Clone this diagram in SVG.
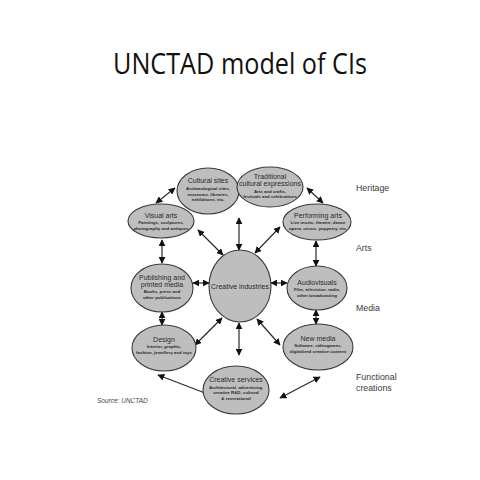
<svg xmlns="http://www.w3.org/2000/svg" width="480" height="480" viewBox="0 0 480 480">
<style>
.n{fill:#bebebe;stroke:#3a3a3a;stroke-width:1.1}
.t{font-family:"Liberation Sans",Arial,sans-serif;font-size:7px;fill:#2a2a2a;text-anchor:middle}
.d{font-family:"Liberation Sans",Arial,sans-serif;font-size:4.4px;fill:#2a2a2a;text-anchor:middle;font-weight:bold}
.l{font-family:"Liberation Sans",Arial,sans-serif;font-size:8.8px;fill:#3a3a3a}
.c line{stroke:#2a2a2a;stroke-width:1.2;marker-start:url(#a);marker-end:url(#a)}
</style>
<defs>
<marker id="a" viewBox="0 0 10 10" refX="9" refY="5" markerWidth="7" markerHeight="7" markerUnits="userSpaceOnUse" orient="auto-start-reverse">
<path d="M0,0 L10,5 L0,10 z" fill="#111"/>
</marker>
</defs>
<rect width="480" height="480" fill="#fff"/>
<text x="240" y="74" font-family="'Open Sans','Noto Sans',sans-serif" font-size="29" fill="#111" text-anchor="middle" textLength="254" lengthAdjust="spacingAndGlyphs">UNCTAD model of CIs</text>

<g class="c">
<line x1="175" y1="188" x2="156" y2="203"/>
<line x1="307" y1="188" x2="323" y2="203"/>
<line x1="239" y1="218" x2="239" y2="250"/>
<line x1="198" y1="230" x2="223" y2="255"/>
<line x1="280" y1="227" x2="255" y2="253"/>
<line x1="162" y1="240" x2="162" y2="263"/>
<line x1="316" y1="241" x2="316" y2="266"/>
<line x1="193" y1="283" x2="209" y2="283"/>
<line x1="271" y1="283" x2="287" y2="283"/>
<line x1="162" y1="312" x2="162" y2="325"/>
<line x1="316" y1="310" x2="316" y2="324"/>
<line x1="222" y1="318" x2="195" y2="345"/>
<line x1="239" y1="323" x2="239" y2="355"/>
<line x1="257" y1="319" x2="280" y2="345"/>
<line x1="158" y1="375" x2="218" y2="398"/>
<line x1="320" y1="377" x2="280" y2="398"/>
</g>

<g id="cultural-sites"><ellipse class="n" cx="208" cy="191" rx="31" ry="23"/>
<text class="t" x="208" y="183">Cultural sites</text>
<text class="d" x="208" y="190">Archaeological sites,</text>
<text class="d" x="208" y="195.5">museums, libraries,</text>
<text class="d" x="208" y="201">exhibitions, etc.</text></g>

<g id="traditional"><ellipse class="n" cx="270" cy="187" rx="33" ry="20"/>
<text class="t" x="270" y="178.5">Traditional</text>
<text class="t" x="270" y="186">cultural expressions</text>
<text class="d" x="270" y="192.5">Arts and crafts,</text>
<text class="d" x="270" y="198">festivals and celebrations</text></g>

<g id="visual-arts"><ellipse class="n" cx="161" cy="221" rx="33" ry="17"/>
<text class="t" x="161" y="218">Visual arts</text>
<text class="d" x="161" y="224">Paintings, sculptures,</text>
<text class="d" x="161" y="229.5">photography and antiques</text></g>

<g id="performing-arts"><ellipse class="n" cx="317" cy="222" rx="34" ry="18"/>
<text class="t" x="318" y="218">Performing arts</text>
<text class="d" x="318" y="224">Live music, theatre, dance</text>
<text class="d" x="318" y="229.5">opera, circus, puppetry, etc.</text></g>

<g id="publishing"><ellipse class="n" cx="162" cy="288" rx="31" ry="24"/>
<text class="t" x="162" y="279.5">Publishing and</text>
<text class="t" x="162" y="287">printed media</text>
<text class="d" x="162" y="293">Books, press and</text>
<text class="d" x="162" y="299">other publications</text></g>

<g id="creative-industries"><ellipse class="n" cx="240" cy="286" rx="31" ry="36"/>
<text class="t" x="240" y="289">Creative industries</text></g>

<g id="audiovisuals"><ellipse class="n" cx="317" cy="288" rx="30" ry="22"/>
<text class="t" x="317" y="285">Audiovisuals</text>
<text class="d" x="317" y="291">Film, television, radio,</text>
<text class="d" x="317" y="297">other broadcasting</text></g>

<g id="design"><ellipse class="n" cx="164" cy="348" rx="32" ry="23"/>
<text class="t" x="164" y="342">Design</text>
<text class="d" x="164" y="348">Interior, graphic,</text>
<text class="d" x="164" y="354">fashion, jewellery and toys</text></g>

<g id="new-media"><ellipse class="n" cx="318" cy="347" rx="35" ry="23"/>
<text class="t" x="318" y="341">New media</text>
<text class="d" x="318" y="347">Software, videogames,</text>
<text class="d" x="318" y="353">digitalized creative content</text></g>

<g id="creative-services"><ellipse class="n" cx="236" cy="390" rx="33" ry="24"/>
<text class="t" x="236" y="382">Creative services</text>
<text class="d" x="236" y="388.5">Architectural, advertising,</text>
<text class="d" x="236" y="394">creative R&amp;D, cultural</text>
<text class="d" x="236" y="399.5">&amp; recreational</text></g>

<text class="l" x="356" y="191">Heritage</text>
<text class="l" x="356" y="251">Arts</text>
<text class="l" x="356" y="311">Media</text>
<text class="l" x="356" y="380">Functional</text>
<text class="l" x="356" y="391">creations</text>
<text x="97" y="403" font-family="'Liberation Sans',Arial,sans-serif" font-size="6.5" font-style="italic" fill="#444">Source: UNCTAD</text>
</svg>
